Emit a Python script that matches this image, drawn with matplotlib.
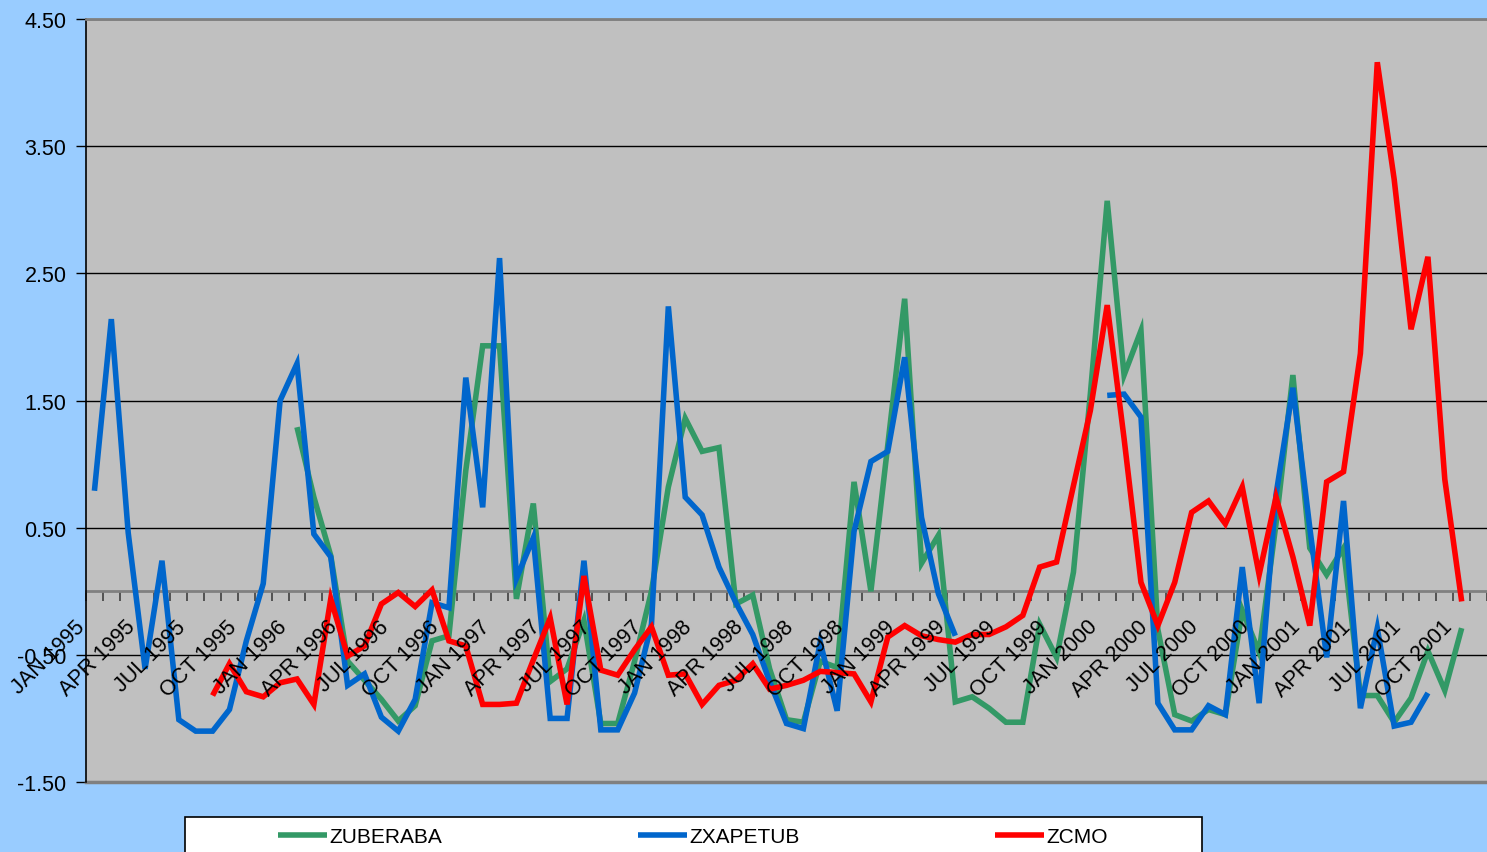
import numpy as np
import matplotlib
matplotlib.use("Agg")
import matplotlib.pyplot as plt
from matplotlib.patches import Rectangle
from matplotlib.lines import Line2D
from matplotlib.transforms import ScaledTranslation

plt.rcParams['font.family'] = ['Liberation Sans', 'DejaVu Sans']

nan = np.nan

# monthly categories, JAN 1995 .. NOV 2001
months = ['JAN', 'FEB', 'MAR', 'APR', 'MAY', 'JUN', 'JUL', 'AUG', 'SEP', 'OCT', 'NOV', 'DEC']
periods = [f"{m} {y}" for y in range(1995, 2002) for m in months][:83]

zuberaba = [nan] * 12 + [
    1.29, 0.74, 0.28, -0.55, -0.70, -0.85, -1.02, -0.90, -0.39, -0.35, 0.95, 1.93,
    1.93, -0.06, 0.69, -0.71, -0.61, -0.23, -1.04, -1.04, -0.55, 0.00, 0.82, 1.36,
    1.10, 1.13, -0.10, -0.03, -0.61, -1.01, -1.03, -0.55, -0.60, 0.86, 0.00, 1.15,
    2.30, 0.22, 0.44, -0.87, -0.83, -0.92, -1.03, -1.03, -0.26, -0.52, 0.15, 1.55,
    3.07, 1.70, 2.05, -0.30, -0.97, -1.02, -0.93, -0.97, -0.15, -0.48, 0.53, 1.70,
    0.34, 0.13, 0.34, -0.82, -0.82, -1.03, -0.84, -0.47, -0.78, -0.29, nan]

zxapetub = [
    0.79, 2.14, 0.46, -0.61, 0.24, -1.01, -1.10, -1.10, -0.93, -0.39, 0.06, 1.50,
    1.79, 0.45, 0.27, -0.74, -0.65, -0.99, -1.10, -0.85, -0.09, -0.13, 1.68, 0.66,
    2.62, 0.10, 0.42, -1.00, -1.00, 0.24, -1.09, -1.09, -0.80, -0.26, 2.24, 0.74,
    0.60, 0.19, -0.09, -0.34, -0.71, -1.04, -1.08, -0.40, -0.94, 0.47, 1.02, 1.10,
    1.84, 0.58, -0.02, -0.35, nan, nan, nan, nan, nan, nan, nan, nan,
    1.54, 1.55, 1.37, -0.88, -1.09, -1.09, -0.90, -0.97, 0.19, -0.88, 0.76, 1.60,
    0.50, -0.52, 0.71, -0.92, -0.29, -1.06, -1.03, -0.80, nan, nan, nan]

zcmo = [nan] * 7 + [
    -0.82, -0.57, -0.79, -0.83, -0.72,
    -0.69, -0.89, -0.06, -0.51, -0.43, -0.10, -0.01, -0.12, 0.01, -0.39, -0.43, -0.89,
    -0.89, -0.88, -0.54, -0.21, -0.89, 0.12, -0.62, -0.66, -0.46, -0.28, -0.66, -0.65,
    -0.89, -0.74, -0.70, -0.57, -0.77, -0.74, -0.70, -0.63, -0.64, -0.65, -0.87, -0.36,
    -0.27, -0.35, -0.38, -0.40, -0.34, -0.34, -0.28, -0.19, 0.19, 0.23, 0.83, 1.42,
    2.25, 1.20, 0.07, -0.27, 0.07, 0.62, 0.71, 0.53, 0.82, 0.13, 0.74, 0.27,
    -0.27, 0.86, 0.94, 1.87, 4.16, 3.24, 2.06, 2.63, 0.88, -0.08, nan]

series = [("ZUBERABA", zuberaba, "#339966"),
          ("ZXAPETUB", zxapetub, "#0066CC"),
          ("ZCMO", zcmo, "#FF0000")]

W, H = 1487, 853
fig = plt.figure(figsize=(W / 100, H / 100), dpi=100, facecolor="#99CCFF")
ax = fig.add_axes([86 / W, 1 - 783 / H, (W - 86) / W, (783 - 20) / H])
ax.set_facecolor("#C0C0C0")

x = np.arange(len(periods))
for name, vals, col in series:
    ax.plot(x, vals, color=col, lw=4, solid_capstyle="butt",
            solid_joinstyle="miter", zorder=3)

ax.set_xlim(-0.5, len(periods) - 0.5)
ax.set_ylim(-1.5, 4.5)
yt = np.arange(-1.5, 4.51, 1.0)
ax.set_yticks(yt, [f"{v:.2f}" for v in yt], fontsize=15.5)
ax.tick_params(axis="y", direction="out", length=7, width=1, color="black", pad=7)
ax.grid(axis="y", color="black", lw=1, zorder=1)
ax.set_axisbelow(True)

# category axis sits on the zero line
ax.spines["bottom"].set_position(("data", 0))
ax.spines["bottom"].set_color("#808080")
ax.spines["bottom"].set_linewidth(2)
ax.spines["bottom"].set_zorder(2)
ax.set_xticks([])
ax.set_xticks(np.arange(-0.5, len(periods), 1), minor=True)
ax.tick_params(axis="x", which="minor", direction="out", length=7, width=1.2,
               color="#404040")
ax.spines["left"].set_color("black")
ax.spines["left"].set_linewidth(1.2)
ax.spines["top"].set_color("#808080")
ax.spines["top"].set_linewidth(2)
ax.spines["right"].set_visible(False)
ax.axhline(-1.5, color="#808080", lw=2.5, clip_on=False, zorder=2)

shift = ScaledTranslation(-13 / 100, -32 / 100, fig.dpi_scale_trans)
for i in range(0, len(periods), 3):
    ax.text(i, 0, periods[i], transform=ax.transData + shift, rotation=45,
            rotation_mode="anchor", ha="right", va="center", fontsize=15.5,
            clip_on=False, zorder=4)

# legend box along the bottom
fig.patches.append(Rectangle((185 / W, -0.05), (1202 - 185) / W, 0.05 + 1 - 818 / H,
                             transform=fig.transFigure, facecolor="white",
                             edgecolor="black", lw=1.2, zorder=0))
handles = [Line2D([], [], color=c, lw=4, solid_capstyle="butt") for _, _, c in series]
fig.legend(handles, [n for n, _, _ in series], loc="center",
           bbox_to_anchor=((278 + 1108) / 2 / W, 1 - 838 / H), ncol=3,
           frameon=False, fontsize=15, handlelength=2.35, handletextpad=0.1,
           columnspacing=9.4)

fig.savefig("out.png", dpi=100, facecolor=fig.get_facecolor())
